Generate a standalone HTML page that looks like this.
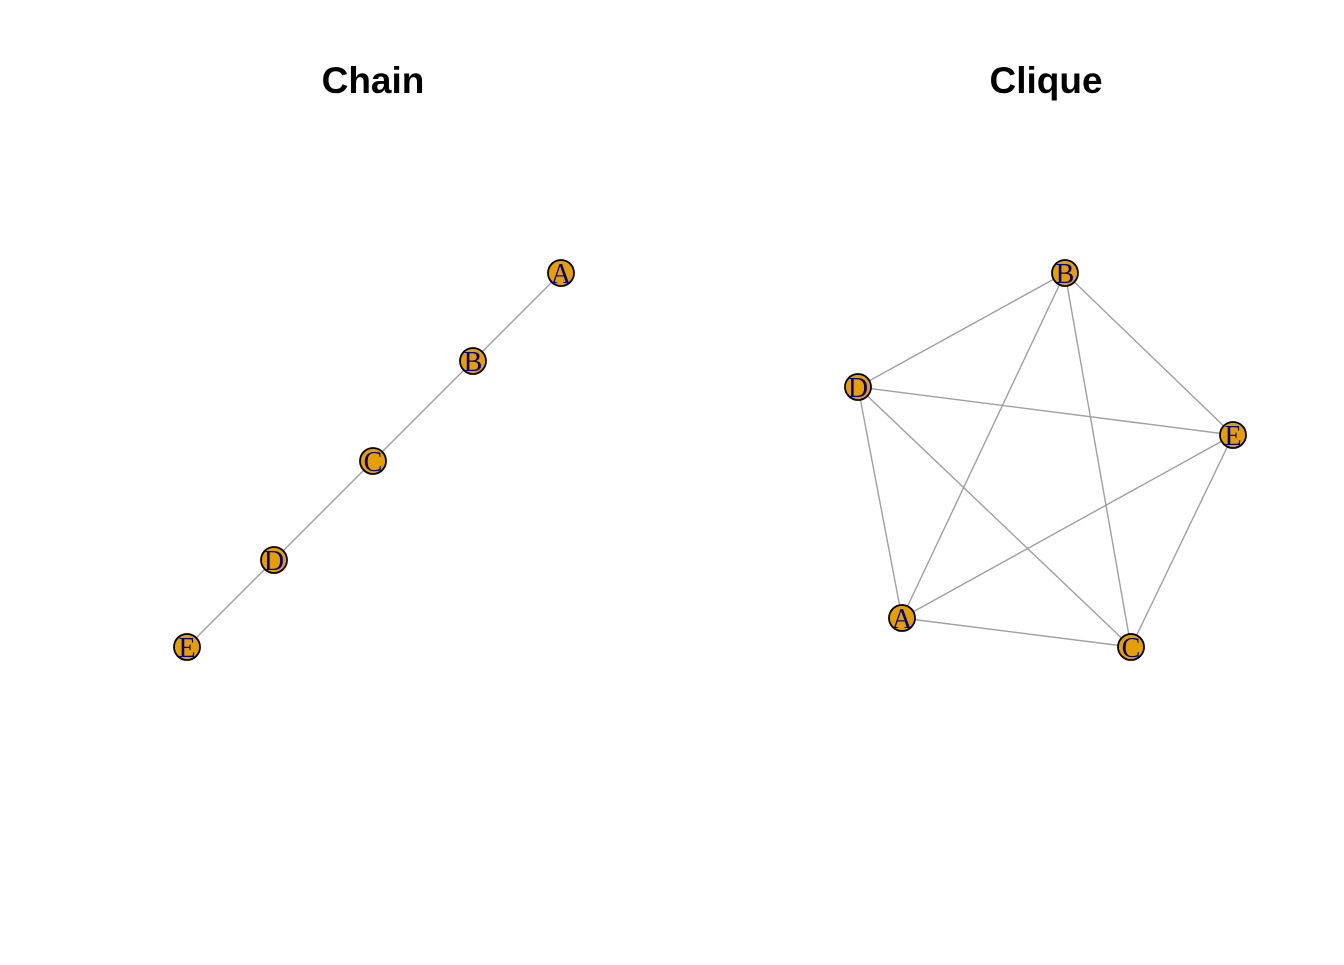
<!DOCTYPE html>
<html><head><meta charset="utf-8"><style>html,body{margin:0;padding:0;background:#fff}</style></head>
<body>
<svg width="1344" height="960" viewBox="0 0 1344 960" xmlns="http://www.w3.org/2000/svg">
<rect width="1344" height="960" fill="#fff"/>
<g font-family="Liberation Sans, sans-serif" font-weight="bold" font-size="37" text-anchor="middle">
<text x="373" y="93">Chain</text>
<text x="1046" y="93">Clique</text>
</g>
<g stroke="#a0a0a0" stroke-width="1.4">
<line x1="561" y1="273" x2="473" y2="361"/>
<line x1="473" y1="361" x2="373" y2="461"/>
<line x1="373" y1="461" x2="274" y2="560"/>
<line x1="274" y1="560" x2="187" y2="647"/>
<line x1="1065" y1="273" x2="858" y2="387"/>
<line x1="1065" y1="273" x2="1233" y2="435"/>
<line x1="1065" y1="273" x2="902" y2="618"/>
<line x1="1065" y1="273" x2="1131" y2="647"/>
<line x1="858" y1="387" x2="1233" y2="435"/>
<line x1="858" y1="387" x2="902" y2="618"/>
<line x1="858" y1="387" x2="1131" y2="647"/>
<line x1="1233" y1="435" x2="902" y2="618"/>
<line x1="1233" y1="435" x2="1131" y2="647"/>
<line x1="902" y1="618" x2="1131" y2="647"/>
</g>
<g fill="#E69F00" stroke="#000" stroke-width="1.8">
<circle cx="561" cy="273" r="13"/><circle cx="473" cy="361" r="13"/><circle cx="373" cy="461" r="13"/><circle cx="274" cy="560" r="13"/><circle cx="187" cy="647" r="13"/>
<circle cx="1065" cy="273" r="13"/><circle cx="858" cy="387" r="13"/><circle cx="1233" cy="435" r="13"/><circle cx="902" cy="618" r="13"/><circle cx="1131" cy="647" r="13"/>
</g>
<g font-family="Liberation Serif, serif" font-size="28" fill="#00008B" text-anchor="middle">
<text x="561" y="283">A</text><text x="473" y="371">B</text><text x="373" y="471">C</text><text x="274" y="570">D</text><text x="187" y="657">E</text>
<text x="1065" y="283">B</text><text x="858" y="397">D</text><text x="1233" y="445">E</text><text x="902" y="628">A</text><text x="1131" y="657">C</text>
</g>
</svg>
</body></html>
